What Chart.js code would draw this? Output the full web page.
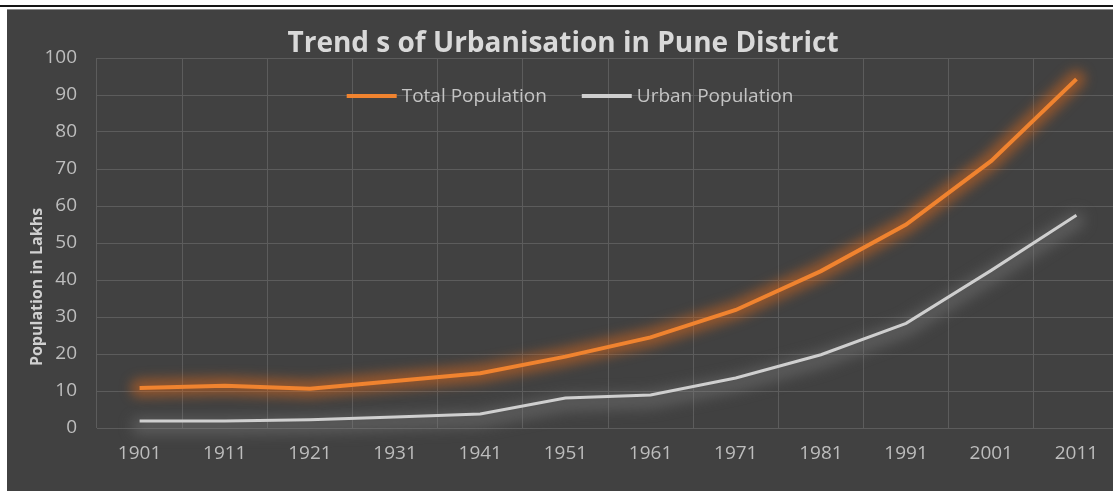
<!DOCTYPE html>
<html>
<head>
<meta charset="utf-8">
<title>Trend s of Urbanisation in Pune District</title>
<script src="https://cdn.jsdelivr.net/npm/chart.js@4.4.1/dist/chart.umd.min.js"></script>
<style>
  html, body { margin: 0; padding: 0; background: #ffffff; overflow: hidden; }
  body { width: 1113px; height: 491px; position: relative; }
  #rule { position: absolute; left: 0; top: 5px; width: 1113px; height: 2px; background: #161616; }
  #rule2 { position: absolute; left: 7px; top: 9px; width: 1106px; height: 1px; background: #8c8c8c; }
  #panel { position: absolute; left: 7px; top: 10px; width: 1106px; height: 481px; background: #414141; }
  #wrap { position: absolute; left: 7px; top: 10px; width: 1118px; height: 481px; }
</style>
</head>
<body>
<div id="rule"></div>
<div id="rule2"></div>
<div id="panel"></div>
<div id="wrap"><canvas id="chart" width="1118" height="481"></canvas></div>
<script>
// Census years and population (in lakhs) for Pune District
const years = ['1901', '1911', '1921', '1931', '1941', '1951', '1961', '1971', '1981', '1991', '2001', '2011'];
const totalPopulation = [10.8, 11.4, 10.6, 12.7, 14.8, 19.3, 24.5, 31.9, 42.4, 55.0, 72.2, 94.3];
const urbanPopulation = [1.9, 1.9, 2.2, 3.0, 3.8, 8.1, 8.9, 13.5, 19.8, 28.3, 42.6, 57.5];
const yTicks = [0, 10, 20, 30, 40, 50, 60, 70, 80, 90, 100];

const FONT = "'Open Sans', 'DejaVu Sans', sans-serif";
const ORANGE = '#f0832f';
const GREY = '#cfcfcf';

// Soft blurred halo stroked along each series before the line itself
const glowPlugin = {
  id: 'glow',
  beforeDatasetDraw(chart, args) {
    const ctx = chart.ctx;
    const ds = chart.data.datasets[args.index];
    const pts = chart.getDatasetMeta(args.index).data;
    if (!pts.length) return;
    ctx.save();
    ctx.filter = 'blur(' + ds.glowBlur + 'px)';
    ctx.strokeStyle = ds.glowColor;
    ctx.lineWidth = ds.glowWidth;
    ctx.lineJoin = 'round';
    ctx.lineCap = 'round';
    const dy = ds.glowOffsetY || 0;
    ctx.beginPath();
    pts.forEach((p, i) => {
      if (i === 0) ctx.moveTo(p.x, p.y + dy); else ctx.lineTo(p.x, p.y + dy);
    });
    ctx.stroke();
    ctx.restore();
  }
};

// Legend placed inside the plot area, plus the rotated axis title
const overlayPlugin = {
  id: 'overlay',
  afterDatasetsDraw(chart) {
    const ctx = chart.ctx;
    const area = chart.chartArea;
    ctx.save();
    ctx.font = '19px ' + FONT;
    ctx.textBaseline = 'middle';
    ctx.textAlign = 'left';
    const lineLen = 50, gap = 5, itemGap = 35;
    const items = chart.data.datasets.map(ds => ({
      label: ds.label, color: ds.borderColor, w: lineLen + gap + ctx.measureText(ds.label).width
    }));
    const total = items.reduce((s, it) => s + it.w, 0) + itemGap * (items.length - 1);
    let x = chart.width / 2 - total / 2 + 4;
    const y = area.top + 38;
    items.forEach(it => {
      ctx.strokeStyle = it.color;
      ctx.lineWidth = 4;
      ctx.beginPath();
      ctx.moveTo(x, y);
      ctx.lineTo(x + lineLen, y);
      ctx.stroke();
      ctx.fillStyle = '#c4c4c4';
      ctx.fillText(it.label, x + lineLen + gap, y + 1);
      x += it.w + itemGap;
    });

    ctx.translate(30, (area.top + area.bottom) / 2 + 44);
    ctx.rotate(-Math.PI / 2);
    ctx.textAlign = 'center';
    ctx.font = 'bold 16px ' + FONT;
    ctx.fillStyle = '#d0d0d0';
    ctx.fillText('Population in Lakhs', 0, 0);
    ctx.restore();
  }
};

new Chart(document.getElementById('chart'), {
  type: 'line',
  data: {
    labels: years,
    datasets: [
      {
        label: 'Total Population',
        data: totalPopulation,
        borderColor: ORANGE,
        backgroundColor: ORANGE,
        borderWidth: 4,
        pointRadius: 0,
        tension: 0,
        glowColor: 'rgba(225,105,25,0.5)',
        glowWidth: 18,
        glowBlur: 6
      },
      {
        label: 'Urban Population',
        data: urbanPopulation,
        borderColor: GREY,
        backgroundColor: GREY,
        borderWidth: 3,
        pointRadius: 0,
        tension: 0,
        glowColor: 'rgba(135,135,135,0.4)',
        glowWidth: 16,
        glowBlur: 7,
        glowOffsetY: 5
      }
    ]
  },
  options: {
    responsive: false,
    animation: false,
    devicePixelRatio: 1,
    layout: { padding: { left: 0, right: 6, top: 0, bottom: 0 } },
    plugins: {
      legend: { display: false },
      tooltip: { enabled: false },
      title: {
        display: true,
        text: 'Trend s of Urbanisation in Pune District',
        color: '#d9d9d9',
        font: { family: FONT, size: 28, weight: 'bold', lineHeight: 1 },
        padding: { top: 20, bottom: 0 }
      }
    },
    scales: {
      x: {
        offset: true,
        grid: { color: '#5c5c5c', lineWidth: 1, offset: true, drawTicks: false },
        border: { display: false },
        ticks: { color: '#bdbdbd', font: { family: FONT, size: 19 }, padding: 14, maxRotation: 0 },
        afterFit(scale) { scale.height = 63; }
      },
      y: {
        min: 0,
        max: 100,
        grid: { color: '#5c5c5c', lineWidth: 1, drawTicks: false },
        border: { display: false },
        afterBuildTicks(scale) { scale.ticks = yTicks.map(v => ({ value: v })); },
        ticks: { color: '#bdbdbd', font: { family: FONT, size: 19 }, padding: 20 },
        afterFit(scale) { scale.width = 90; }
      }
    }
  },
  plugins: [glowPlugin, overlayPlugin]
});
</script>
</body>
</html>
